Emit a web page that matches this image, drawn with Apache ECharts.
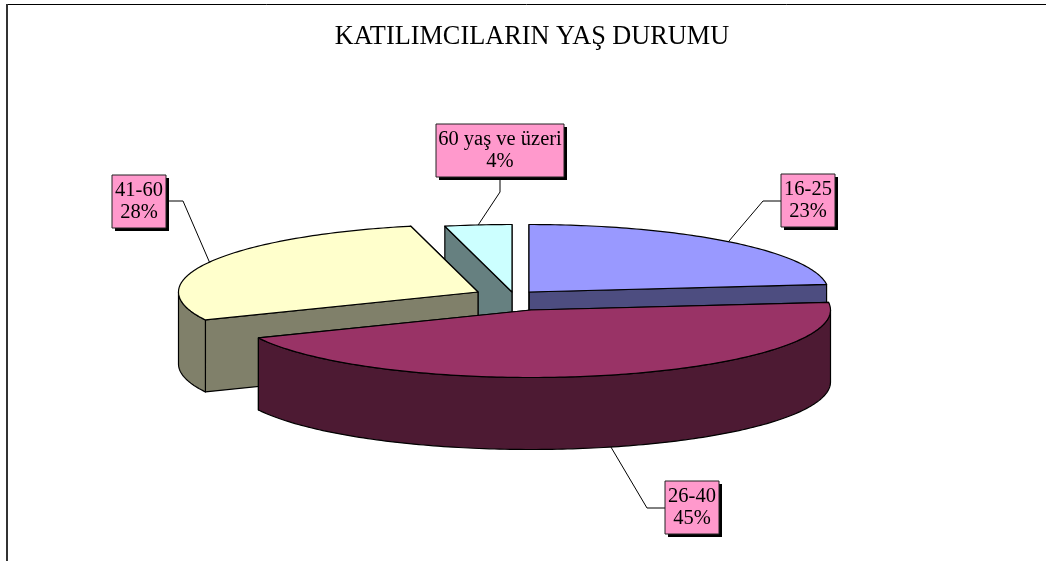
<!DOCTYPE html>
<html>
<head>
<meta charset="utf-8">
<title>KATILIMCILARIN YAŞ DURUMU</title>
<script src="https://cdn.jsdelivr.net/npm/echarts@6/dist/echarts.min.js"></script>
<style>
  html, body { margin: 0; padding: 0; background: #fff; }
  #chart { width: 1046px; height: 561px; }
</style>
</head>
<body>
<div id="chart"></div>
<script>
const titleText = "KATILIMCILARIN YAŞ DURUMU";
const categories = ["16-25", "26-40", "41-60", "60 yaş ve üzeri"];
const shares = [23.2, 45, 28.2, 3.6];

const topColors = ["#9999FF", "#993366", "#FFFFCC", "#CCFFFF"];
const sideColors = ["#4D4D80", "#4D1A33", "#80806A", "#668080"];

// yerlesim: dilimlerin merkezi (patlatilmis), etiket kutulari, kirik nokta
const centers = [[529, 292], [531, 310], [478, 292], [512, 292]];
const boxes = [[781, 174, 54, 53], [665, 481, 54, 53], [112, 175, 54, 53], [436, 124, 128, 53]];
const elbows = [[763, 201], [647, 508], [183, 201], [500, 192]];
const boxExits = [[781, 201], [665, 508], [166, 201], [500, 177]];
const drawOrder = [0, 3, 2, 1]; // arkadan one
const rx = 299.5, ry = 67.5, depth = 72;
const serif = '"Liberation Serif", "Times New Roman", serif';

const total = shares.reduce((a, b) => a + b, 0);
function angleRange(i) {
  let sum = 0;
  for (let k = 0; k < i; k++) sum += shares[k];
  return [sum / total * 360, (sum + shares[i]) / total * 360];
}
function rimPoint(c, deg, dy) {
  const t = deg * Math.PI / 180;
  return [c[0] + rx * Math.sin(t), c[1] - ry * Math.cos(t) + (dy || 0)];
}
function arcPoints(c, from, to, dy) {
  const pts = [];
  for (let d = from; d < to; d += 1) pts.push(rimPoint(c, d, dy));
  pts.push(rimPoint(c, to, dy));
  return pts;
}
function poly(points, fill) {
  return {
    type: "polygon",
    shape: { points: points },
    style: { fill: fill, stroke: "#000", lineWidth: 1.2, lineJoin: "round" }
  };
}

function renderSlice(params, api) {
  const i = api.value(0);
  const c = centers[i];
  const [a0, a1] = angleRange(i);
  const kids = [];
  // kesit yuzleri: once bitis sonra baslangic
  [a1, a0].forEach(function (a) {
    const p = rimPoint(c, a);
    kids.push(poly([c, p, [p[0], p[1] + depth], [c[0], c[1] + depth]], sideColors[i]));
  });
  // dis duvar sadece on yarida gorunur
  const w0 = Math.max(a0, 90), w1 = Math.min(a1, 270);
  if (w1 > w0) {
    const upper = arcPoints(c, w0, w1, 0);
    const lower = arcPoints(c, w0, w1, depth).reverse();
    kids.push(poly(upper.concat(lower), sideColors[i]));
  }
  kids.push(poly([c].concat(arcPoints(c, a0, a1, 0)), topColors[i]));
  return { type: "group", children: kids };
}

function renderLabel(params, api) {
  const i = api.value(0);
  const [a0, a1] = angleRange(i);
  const mid = (a0 + a1) / 2;
  const frontFace = mid > 90 && mid < 270;
  const anchor = rimPoint(centers[i], mid, frontFace ? depth : 0);
  const b = boxes[i];
  const textStyle = (text, y) => ({
    type: "text",
    style: {
      text: text, x: b[0] + b[2] / 2, y: y,
      textAlign: "center", textVerticalAlign: "middle",
      fill: "#000", font: "20.5px " + serif
    }
  });
  return {
    type: "group",
    children: [
      {
        type: "polyline",
        shape: { points: [boxExits[i], elbows[i], anchor] },
        style: { fill: null, stroke: "#000", lineWidth: 1 }
      },
      { type: "rect", shape: { x: b[0] + 3, y: b[1] + 3, width: b[2], height: b[3] }, style: { fill: "#000" } },
      { type: "rect", shape: { x: b[0], y: b[1], width: b[2], height: b[3] }, style: { fill: "#FF99CC", stroke: "#222", lineWidth: 1 } },
      textStyle(categories[i], b[1] + 16),
      textStyle(Math.round(shares[i]) + "%", b[1] + 38)
    ]
  };
}

const chart = echarts.init(document.getElementById("chart"), null, { renderer: "canvas" });
chart.setOption({
  animation: false,
  backgroundColor: "#fff",
  title: {
    text: titleText,
    left: 532,
    top: 19,
    textAlign: "center",
    textStyle: { fontFamily: serif, fontWeight: "normal", fontSize: 26.3, color: "#000" }
  },
  graphic: [
    { type: "line", shape: { x1: 7, y1: 4.5, x2: 1046, y2: 4.5 }, style: { stroke: "#000", lineWidth: 1 }, silent: true },
    { type: "line", shape: { x1: 7, y1: 4, x2: 7, y2: 561 }, style: { stroke: "#333", lineWidth: 2 }, silent: true }
  ],
  series: [
    {
      type: "custom",
      coordinateSystem: "none",
      silent: true,
      data: drawOrder.map(i => [i, shares[i]]),
      renderItem: renderSlice
    },
    {
      type: "custom",
      coordinateSystem: "none",
      silent: true,
      z: 3,
      data: drawOrder.map(i => [i, shares[i]]),
      renderItem: renderLabel
    }
  ]
});
chart.setOption({ title: { left: 527 } });
window.addEventListener("resize", () => chart.resize());
</script>
</body>
</html>
